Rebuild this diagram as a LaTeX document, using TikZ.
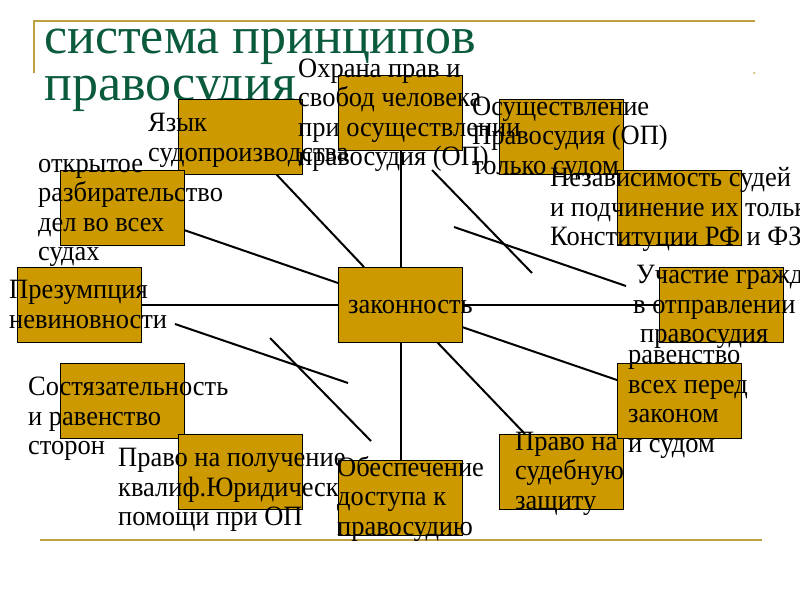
\documentclass[tikz,border=0pt]{standalone}
\usepackage{fontspec}
\setmainfont{Liberation Serif}
\newfontfamily\bodyfont[FakeStretch=0.945]{Liberation Serif}
\definecolor{boxgold}{RGB}{204,153,0}
\definecolor{linegold}{RGB}{192,160,64}
\definecolor{titlegreen}{RGB}{10,90,60}
\tikzset{
  pbox/.style={draw=black, line width=0.9pt, fill=boxgold, minimum width=124pt, minimum height=75pt, inner sep=0pt, anchor=north west},
  ptext/.style={anchor=base west, align=left, inner sep=0pt, font=\bodyfont\fontsize{28}{29.5}\selectfont, text=black},
  ttext/.style={anchor=base west, inner sep=0pt, font=\fontsize{52}{47}\selectfont, text=titlegreen},
  conn/.style={draw=black, line width=2pt},
  rule/.style={draw=linegold, line width=2pt}
}
\begin{document}
\begin{tikzpicture}[x=1pt,y=-1pt]
\useasboundingbox (0,0) rectangle (800,600);
\clip (0,0) rectangle (800,600);
\fill[white] (0,0) rectangle (800,600);
% decorative rules
\coordinate (r1) at (34,73);
\coordinate (r2) at (34,21);
\coordinate (r3) at (755,21);
\coordinate (r4) at (40,540);
\coordinate (r5) at (762,540);
\draw[rule] (r1) -- (r2) -- (r3);
\draw[rule] (r4) -- (r5);
\fill[linegold] (754,73) circle (1pt);
% title
\node[ttext] (t1) at (44,53) {система принципов};
\node[ttext] (t2) at (44,100) {правосудия};
% connector endpoints
\coordinate (a1) at (276,174); \coordinate (b1) at (364,267);
\coordinate (a2) at (184,230); \coordinate (b2) at (338,283);
\coordinate (a3) at (141,304.5); \coordinate (b3) at (659,304.5);
\coordinate (a4) at (400.5,149); \coordinate (b4) at (400.5,460);
\coordinate (a5) at (432,170); \coordinate (b5) at (532,273);
\coordinate (a6) at (454,227); \coordinate (b6) at (626,286);
\coordinate (a7) at (462,327); \coordinate (b7) at (617,380);
\coordinate (a8) at (437,342); \coordinate (b8) at (525,434);
\coordinate (a9) at (175,324); \coordinate (b9) at (348,383);
\coordinate (a10) at (270,338); \coordinate (b10) at (371,441);
\draw[conn] (a1) -- (b1);
\draw[conn] (a2) -- (b2);
\draw[conn] (a3) -- (b3);
\draw[conn] (a4) -- (b4);
\draw[conn] (a5) -- (b5);
\draw[conn] (a6) -- (b6);
\draw[conn] (a7) -- (b7);
\draw[conn] (a8) -- (b8);
\draw[conn] (a9) -- (b9);
\draw[conn] (a10) -- (b10);
% boxes
\node[pbox] (yazyk) at (178,99) {};
\node[pbox] (okhrana) at (338,75) {};
\node[pbox] (osushch) at (499,99) {};
\node[pbox] (nezav) at (617,170) {};
\node[pbox] (otkr) at (60,170) {};
\node[pbox] (prezum) at (17,267) {};
\node[pbox] (zakon) at (338,267) {};
\node[pbox] (uchast) at (659,267) {};
\node[pbox] (sostyaz) at (60,363) {};
\node[pbox] (pravopol) at (178,434) {};
\node[pbox] (pravosud) at (499,434) {};
\node[pbox] (raven) at (617,363) {};
% text under the last box (anchor = baseline of last line)
\node[ptext] (tpravopol) at (118,525.5) {Право на получение\\квалиф.Юридической\\помощи при ОП};
\node[pbox] (obesp) at (338,460) {};
% texts
\node[ptext] (tyazyk) at (148,161) {Язык\\судопроизводства};
\node[ptext] (tokhrana) at (298,165.5) {Охрана прав и\\свобод человека\\при осуществлении\\правосудия (ОП)};
\node[ptext] (tosushch) at (472,174) {Осуществление\\Правосудия (ОП)\\только судом};
\node[ptext] (tnezav) at (550,245.5) {Независимость судей\\и подчинение их только\\Конституции РФ и ФЗ};
\node[ptext] (totkr) at (38,260.5) {открытое\\разбирательство\\дел во всех\\судах};
\node[ptext] (tprezum) at (9,328) {Презумпция\\невиновности};
\node[ptext] (tzakon) at (348,313) {законность};
\node[ptext] (tuchast1) at (636,283) {Участие граждан};
\node[ptext] (tuchast2) at (633,313) {в отправлении};
\node[ptext] (tuchast3) at (640,342) {правосудия};
\node[ptext] (tsostyaz) at (28,454.5) {Состязательность\\и равенство\\сторон};
\node[ptext] (tobesp) at (337,535) {Обеспечение\\доступа к\\правосудию};
\node[ptext] (tpravosud) at (515,509) {Право на\\судебную\\защиту};
\node[ptext] (traven) at (628,452) {равенство\\всех перед\\законом\\и судом};
\end{tikzpicture}
\end{document}
